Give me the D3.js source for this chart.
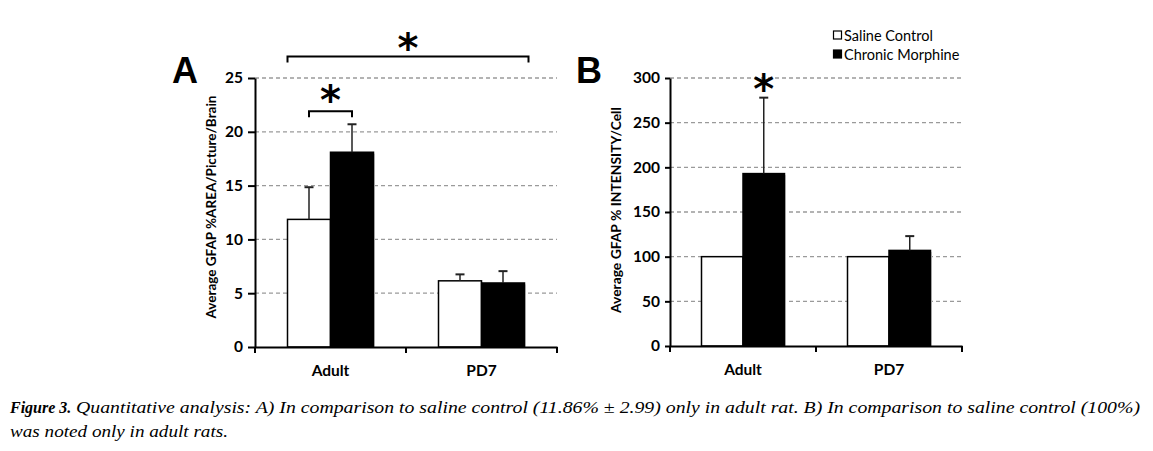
<!DOCTYPE html>
<html><head><meta charset="utf-8">
<script src="https://cdn.jsdelivr.net/npm/d3@7"></script>
<style>
body{margin:0;background:#fff;}
svg{display:block;}
</style></head>
<body>
<svg id="chart" width="1153" height="451"></svg>
<script>
// ---- data ----
const groups = ["Adult", "PD7"];
const seriesNames = ["Saline Control", "Chronic Morphine"];
// Panel A: Average GFAP %AREA/Picture/Brain
const areaMean = [[11.86, 18.1], [6.15, 5.95]];
const areaErr  = [[2.99, 2.6], [0.6, 1.1]];
const areaTicks = [0, 5, 10, 15, 20, 25];
// Panel B: Average GFAP % INTENSITY/Cell
const intMean = [[100, 193], [100, 107]];
const intErr  = [[0, 85], [0, 16]];
const intTicks = [0, 50, 100, 150, 200, 250, 300];

const svg = d3.select("#chart");
const sans = "Lato, 'Open Sans', sans-serif";
const fills = ["#ffffff", "#000000"];

function panel(opt) {
  const g = svg.append("g");
  const x = d3.scaleBand().domain(groups).range(opt.xr).padding(0);
  const y = d3.scaleLinear().domain(opt.dom).range(opt.yr);
  const x1 = d3.scaleBand().domain(seriesNames).range([-opt.bw, opt.bw]).padding(0);

  // gridlines
  g.append("g").selectAll("line").data(opt.ticks.filter(t => t > 0)).join("line")
    .attr("x1", opt.xr[0]).attr("x2", opt.xr[1])
    .attr("y1", d => y(d)).attr("y2", d => y(d))
    .attr("stroke", "#9a9a9a").attr("stroke-width", 1.3).attr("stroke-dasharray", "4,3");

  // bars
  const data = [];
  groups.forEach((gr, i) => seriesNames.forEach((s, j) => data.push({gr, s, j, v: opt.mean[i][j], e: opt.err[i][j]})));
  const cx = d => x(d.gr) + x.bandwidth() / 2 + x1(d.s);
  // soft shadow
  g.append("g").selectAll("rect").data(data).join("rect")
    .attr("x", d => cx(d) + 1.5).attr("width", x1.bandwidth())
    .attr("y", d => y(d.v) + 1.5).attr("height", d => y(0) - y(d.v) - 1.5)
    .attr("fill", "#d8d8d8");
  g.append("g").selectAll("rect").data(data).join("rect")
    .attr("x", cx).attr("width", x1.bandwidth())
    .attr("y", d => y(d.v)).attr("height", d => y(0) - y(d.v))
    .attr("fill", d => fills[d.j]).attr("stroke", "#000").attr("stroke-width", 1.5);

  // error bars (upper only)
  const eb = g.append("g").selectAll("g").data(data.filter(d => d.e > 0)).join("g");
  eb.append("line")
    .attr("x1", d => cx(d) + x1.bandwidth() / 2).attr("x2", d => cx(d) + x1.bandwidth() / 2)
    .attr("y1", d => y(d.v)).attr("y2", d => y(d.v + d.e))
    .attr("stroke", "#222").attr("stroke-width", 1.5);
  eb.append("line")
    .attr("x1", d => cx(d) + x1.bandwidth() / 2 - 4.5).attr("x2", d => cx(d) + x1.bandwidth() / 2 + 4.5)
    .attr("y1", d => y(d.v + d.e)).attr("y2", d => y(d.v + d.e))
    .attr("stroke", "#222").attr("stroke-width", 2);

  // y axis
  const ya = g.append("g").attr("transform", `translate(${opt.xr[0]},0)`)
    .call(d3.axisLeft(y).tickValues(opt.ticks).tickSize(opt.tick).tickPadding(5).tickSizeOuter(0));
  ya.select(".domain").attr("stroke", "#000").attr("stroke-width", 2);
  ya.selectAll(".tick line").attr("stroke", "#000").attr("stroke-width", 2);
  ya.selectAll(".tick text").attr("font-family", sans).attr("font-weight", "bold")
    .attr("font-size", 15.5).attr("fill", "#000");

  // x axis
  const xa = g.append("g").attr("transform", `translate(0,${y(0)})`)
    .call(d3.axisBottom(x).tickSize(0).tickPadding(18).tickSizeOuter(0));
  xa.select(".domain").attr("stroke", "#000").attr("stroke-width", 2);
  xa.selectAll(".tick text").attr("font-family", sans).attr("font-weight", "bold")
    .attr("font-size", 15.5).attr("fill", "#000");
  // x tick marks at band edges
  const edges = [opt.xr[0], ...groups.slice(1).map(d => x(d)), opt.xr[1]];
  g.append("g").selectAll("line").data(edges).join("line")
    .attr("x1", d => d).attr("x2", d => d)
    .attr("y1", y(0)).attr("y2", y(0) + 6)
    .attr("stroke", "#000").attr("stroke-width", 2);

  // y label
  g.append("text")
    .attr("transform", `translate(${opt.labx},${opt.laby}) rotate(-90)`)
    .attr("text-anchor", "middle").attr("dominant-baseline", "central")
    .attr("font-family", sans).attr("font-weight", "bold").attr("font-size", 13)
    .attr("textLength", opt.labLen).attr("lengthAdjust", "spacingAndGlyphs")
    .text(opt.label);

  // panel letter
  g.append("text").attr("x", opt.letterX).attr("y", 83)
    .attr("font-family", "'Liberation Sans', Arial, sans-serif").attr("font-weight", "bold")
    .attr("font-size", 36).text(opt.letter);
  return {x, y, x1, g, cx};
}

const A = panel({
  xr: [255, 557], yr: [347, 78], dom: [0, 25], bw: 43, ticks: areaTicks, tick: 7,
  mean: areaMean, err: areaErr, label: "Average GFAP %AREA/Picture/Brain",
  labx: 211, laby: 207, labLen: 223, letter: "A", letterX: 172
});
const B = panel({
  xr: [670, 962], yr: [346, 78], dom: [0, 300], bw: 41.5, ticks: intTicks, tick: 5,
  mean: intMean, err: intErr, label: "Average GFAP % INTENSITY/Cell",
  labx: 616, laby: 210, labLen: 206, letter: "B", letterX: 576
});

function star(g, x, y) {
  g.append("text").attr("x", x).attr("y", y)
    .attr("text-anchor", "middle")
    .attr("font-family", "'DejaVu Sans', sans-serif").attr("font-weight", "bold")
    .attr("font-size", 40).text("*");
}
function bracket(g, x1, x2, y, h) {
  g.append("path")
    .attr("d", `M${x1},${y + h}V${y}H${x2}V${y + h}`)
    .attr("fill", "none").attr("stroke", "#000").attr("stroke-width", 2);
}

// Panel A annotations
{
  const bwA = A.x1.bandwidth();
  const adultC = A.x("Adult") + A.x.bandwidth() / 2;
  const pdC = A.x("PD7") + A.x.bandwidth() / 2;
  const xs = adultC - bwA / 2, xe = adultC + bwA / 2;
  bracket(A.g, xs, xe, A.y(21.9), 6);
  star(A.g, adultC, A.y(21.9) + 3);
  bracket(A.g, adultC - bwA + 0, pdC + bwA + 4, A.y(27), 6);
  star(A.g, (adultC - bwA + pdC + bwA + 4) / 2, A.y(27) + 6);
}
// Panel B annotation
{
  const adultC = B.x("Adult") + B.x.bandwidth() / 2;
  star(B.g, adultC + B.x1.bandwidth() / 2, B.y(283) + 10);
}

// legend
const leg = svg.append("g");
seriesNames.forEach((s, i) => {
  const yy = 31 + i * 19;
  leg.append("rect").attr("x", 833.5).attr("y", yy).attr("width", 8).attr("height", 8)
    .attr("fill", fills[i]).attr("stroke", "#000").attr("stroke-width", 1.2);
  leg.append("text").attr("x", 844).attr("y", yy + 4).attr("dominant-baseline", "central")
    .attr("font-family", sans).attr("font-size", 14.5).text(s);
});

// caption
const serif = "'Liberation Serif', 'Times New Roman', serif";
const cap = svg.append("g");
cap.append("text").attr("x", 10).attr("y", 413)
  .attr("font-family", serif).attr("font-size", 16).attr("font-style", "italic").attr("font-weight", "bold")
  .text("Figure 3.");
cap.append("text").attr("x", 76).attr("y", 413)
  .attr("font-family", serif).attr("font-size", 17).attr("font-style", "italic")
  .attr("textLength", 1064).attr("lengthAdjust", "spacingAndGlyphs")
  .text("Quantitative analysis: A) In comparison to saline control (11.86% ± 2.99) only in adult rat. B) In comparison to saline control (100%)");
cap.append("text").attr("x", 10).attr("y", 437)
  .attr("font-family", serif).attr("font-size", 17).attr("font-style", "italic")
  .attr("textLength", 218).attr("lengthAdjust", "spacingAndGlyphs")
  .text("was noted only in adult rats.");
</script>
</body></html>
